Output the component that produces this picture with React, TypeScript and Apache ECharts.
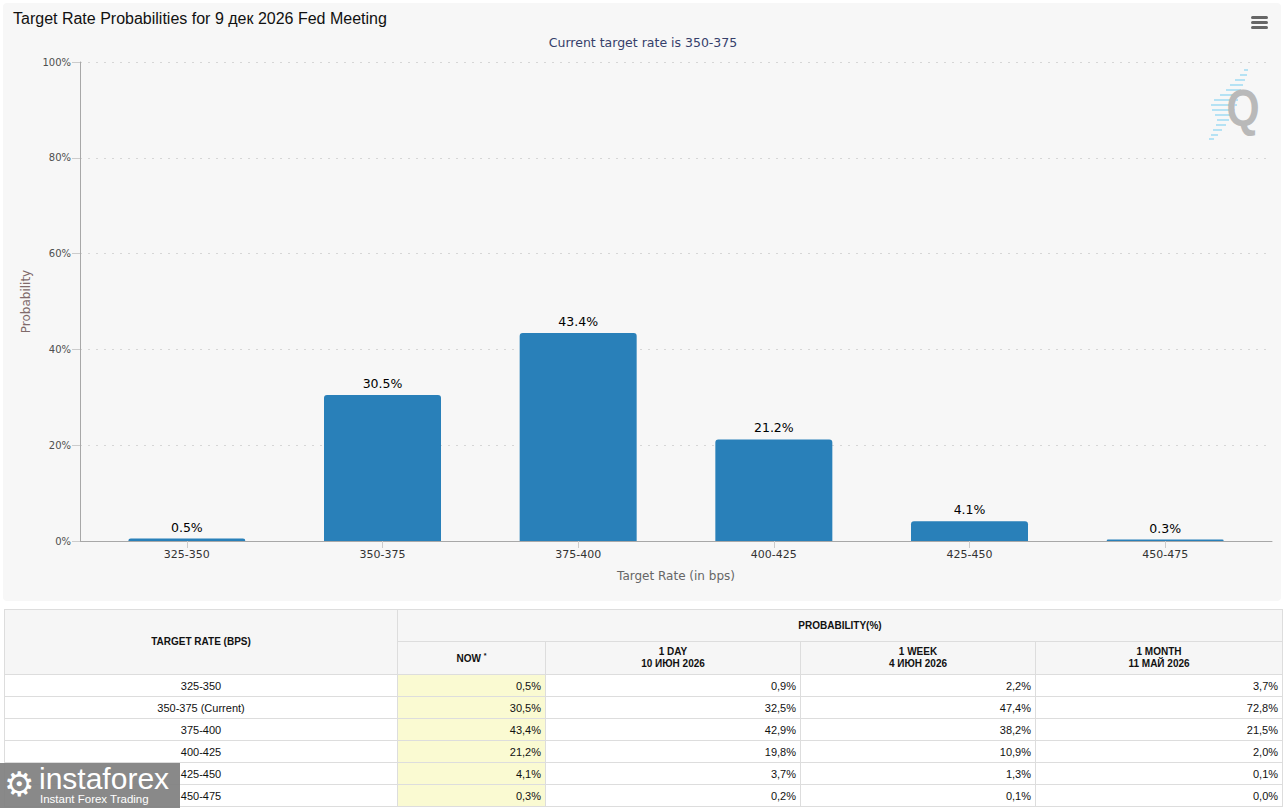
import React, { useEffect, useRef } from "react";
import * as echarts from "echarts";

const categories = ["325-350", "350-375", "375-400", "400-425", "425-450", "450-475"];
const tableRates = ["325-350", "350-375 (Current)", "375-400", "400-425", "425-450", "450-475"];
const nowValues = [0.5, 30.5, 43.4, 21.2, 4.1, 0.3];
const dayValues = [0.9, 32.5, 42.9, 19.8, 3.7, 0.2];
const weekValues = [2.2, 47.4, 38.2, 10.9, 1.3, 0.1];
const monthValues = [3.7, 72.8, 21.5, 2.0, 0.1, 0.0];
const yTicks = [0, 20, 40, 60, 80, 100];
const columnHeads = [
  { title: "1 DAY", date: "10 ИЮН 2026" },
  { title: "1 WEEK", date: "4 ИЮН 2026" },
  { title: "1 MONTH", date: "11 МАЙ 2026" },
];

const FONT = "'DejaVu Sans', Verdana, sans-serif";
const ARIAL = "'Liberation Sans', Arial, sans-serif";

const fmt = (v: number) => v.toFixed(1).replace(".", ",") + "%";

// decorative logo streaks (y, x1, x2)
const streaks = [
  [70, 1244, 1248], [75, 1240, 1247], [80, 1235, 1245], [85, 1230, 1243],
  [90, 1226, 1241], [95, 1220, 1240], [100, 1214, 1238], [105, 1211, 1237],
  [110, 1212, 1235], [115, 1215, 1232], [120, 1217, 1229], [125, 1216, 1226],
  [130, 1213, 1222], [135, 1211, 1218], [139, 1209, 1214],
];

function Chart() {
  const ref = useRef<HTMLDivElement>(null);
  useEffect(() => {
    if (!ref.current) return;
    const chart = echarts.init(ref.current, undefined, { renderer: "svg" });
    const option: any = {
      animation: false,
      backgroundColor: "#ffffff",
      title: [
        {
          text: "Target Rate Probabilities for 9 дек 2026 Fed Meeting",
          left: 8,
          top: 5,
          textStyle: { fontFamily: ARIAL, fontSize: 16, fontWeight: "normal", color: "#111111" },
        },
        {
          text: "Current target rate is 350-375",
          left: "center",
          top: 31,
          textStyle: { fontFamily: FONT, fontSize: 12.5, fontWeight: "normal", color: "#35406b" },
        },
      ],
      graphic: [
        {
          type: "rect",
          silent: true,
          z: -10,
          shape: { x: 3, y: 3, width: 1278, height: 598, r: 4 },
          style: { fill: "#f7f7f7" },
        },
        ...[16, 21, 26].map((y) => ({
          type: "rect",
          silent: true,
          shape: { x: 1251, y, width: 17, height: 3, r: 1.5 },
          style: { fill: "#666666" },
        })),
        ...streaks.map(([y, x1, x2]) => ({
          type: "line",
          silent: true,
          shape: { x1, y1: y, x2, y2: y },
          style: { stroke: "#b5e2f4", lineWidth: 2 },
        })),
        {
          type: "text",
          silent: true,
          x: 1243,
          y: 108,
          scaleX: 0.82,
          style: {
            text: "Q",
            fontFamily: ARIAL,
            fontWeight: "bold",
            fontSize: 52,
            fill: "#b9b9b9",
            align: "center",
            verticalAlign: "middle",
          },
        },
      ],
      grid: [
        { left: 80, right: 14, top: 62, bottom: 63 },
        { left: 89, right: 23, top: 62, bottom: 63 },
      ],
      xAxis: [
        {
          type: "value",
          gridIndex: 0,
          min: 0,
          max: 1,
          axisLine: { show: true, lineStyle: { color: "#a8a8a8" } },
          axisTick: { show: false },
          axisLabel: { show: false },
          splitLine: { show: false },
        },
        {
          type: "category",
          gridIndex: 1,
          data: categories,
          name: "Target Rate (in bps)",
          nameLocation: "middle",
          nameGap: 29,
          nameTextStyle: { fontFamily: FONT, fontSize: 12, color: "#666666" },
          axisLine: { show: false },
          axisTick: { show: true, alignWithLabel: true, length: 7, lineStyle: { color: "#cccccc" } },
          axisLabel: { fontFamily: FONT, fontSize: 11, color: "#333333", margin: 8 },
        },
      ],
      yAxis: [
        {
          type: "value",
          gridIndex: 0,
          min: 0,
          max: 100,
          interval: 20,
          name: "Probability",
          nameLocation: "middle",
          nameGap: 47,
          nameTextStyle: { fontFamily: FONT, fontSize: 12, color: "#806a6a" },
          axisLine: { show: true, lineStyle: { color: "#a8a8a8" } },
          axisTick: { show: true, length: 8, lineStyle: { color: "#cccccc" } },
          axisLabel: {
            formatter: (v: number) => (yTicks.includes(v) ? v + "%" : ""),
            fontFamily: FONT,
            fontSize: 10,
            color: "#4f4f4f",
            margin: 9,
          },
          splitLine: { show: true, lineStyle: { color: "#d6d6d6", type: [2, 6] } },
        },
        {
          type: "value",
          gridIndex: 1,
          min: 0,
          max: 100,
          show: false,
          splitLine: { show: false },
        },
      ],
      series: [
        {
          type: "bar",
          xAxisIndex: 1,
          yAxisIndex: 1,
          data: nowValues,
          barWidth: 117,
          itemStyle: { color: "#2980b9", borderRadius: [3, 3, 0, 0] },
          label: {
            show: true,
            position: "top",
            distance: 5,
            formatter: (p: any) => p.value.toFixed(1) + "%",
            fontFamily: FONT,
            fontSize: 12.5,
            color: "#000000",
          },
        },
      ],
    };
    chart.setOption(option);
    return () => chart.dispose();
  }, []);
  return <div ref={ref} style={{ position: "absolute", left: 0, top: 0, width: 1286, height: 604 }} />;
}

const border = "1px solid #dddddd";

function Table() {
  const head: React.CSSProperties = {
    fontFamily: ARIAL,
    fontSize: 10,
    fontWeight: "bold",
    color: "#111",
    background: "#f6f6f6",
    border,
    textAlign: "center",
    padding: 0,
    lineHeight: "12px",
  };
  const cell: React.CSSProperties = {
    fontFamily: ARIAL,
    fontSize: 11,
    color: "#111",
    border,
    padding: "0 4px 0 0",
    textAlign: "right",
    height: 21,
  };
  return (
    <table
      style={{
        position: "absolute",
        left: 4,
        top: 609,
        width: 1278,
        borderCollapse: "collapse",
        tableLayout: "fixed",
        background: "#fff",
      }}
    >
      <colgroup>
        <col style={{ width: 393 }} />
        <col style={{ width: 148 }} />
        <col style={{ width: 255 }} />
        <col style={{ width: 235 }} />
        <col style={{ width: 247 }} />
      </colgroup>
      <tbody>
        <tr style={{ height: 32 }}>
          <td rowSpan={2} style={head}>TARGET RATE (BPS)</td>
          <td colSpan={4} style={head}>PROBABILITY(%)</td>
        </tr>
        <tr style={{ height: 33 }}>
          <td style={head}>
            NOW <sup style={{ fontSize: 7 }}>*</sup>
          </td>
          {columnHeads.map((c) => (
            <td key={c.title} style={head}>
              {c.title}
              <br />
              {c.date}
            </td>
          ))}
        </tr>
        {tableRates.map((r, i) => (
          <tr key={r} style={{ height: 22 }}>
            <td style={{ ...cell, textAlign: "center", padding: 0 }}>{r}</td>
            <td style={{ ...cell, background: "#fafad2" }}>{fmt(nowValues[i])}</td>
            <td style={cell}>{fmt(dayValues[i])}</td>
            <td style={cell}>{fmt(weekValues[i])}</td>
            <td style={cell}>{fmt(monthValues[i])}</td>
          </tr>
        ))}
      </tbody>
    </table>
  );
}

function Watermark() {
  return (
    <div
      style={{
        position: "absolute",
        left: 0,
        top: 763,
        width: 180,
        height: 45,
        background: "rgba(128,128,128,0.93)",
        color: "#fff",
      }}
    >
      <div style={{ position: "absolute", left: 4, top: 1, fontFamily: FONT, fontSize: 34, lineHeight: "40px" }}>⚙</div>
      <div style={{ position: "absolute", left: 39, top: 1, fontFamily: ARIAL, fontSize: 30, lineHeight: "30px", fontWeight: 300 }}>
        instaforex
      </div>
      <div style={{ position: "absolute", left: 40, top: 30, fontFamily: ARIAL, fontSize: 11.5, lineHeight: "13px" }}>
        Instant Forex Trading
      </div>
    </div>
  );
}

export default function App() {
  return (
    <div style={{ position: "absolute", left: 0, top: 0, width: 1286, height: 808, overflow: "hidden", background: "#fff" }}>
      <Chart />
      <Table />
      <Watermark />
    </div>
  );
}
